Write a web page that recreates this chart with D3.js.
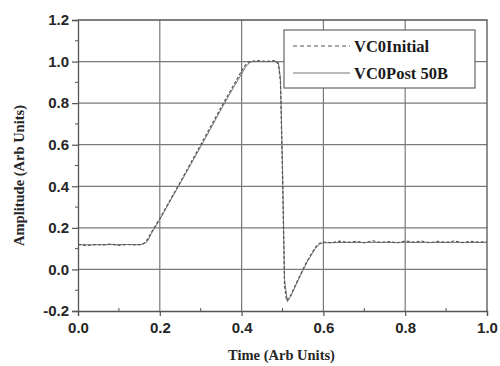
<!DOCTYPE html>
<html>
<head>
<meta charset="utf-8">
<script src="https://cdn.jsdelivr.net/npm/d3@7"></script>
<style>
  body { margin: 0; background: #fff; }
  svg { display: block; }
  .tick-label { font-family: "Liberation Sans", Arial, sans-serif; font-weight: bold; font-size: 15px; fill: #262626; }
  .axis-title { font-family: "Liberation Serif", "Times New Roman", serif; font-weight: bold; font-size: 14.5px; fill: #262626; }
  .legend-text { font-family: "Liberation Serif", "Times New Roman", serif; font-weight: bold; font-size: 16.5px; fill: #1a1a1a; }
</style>
</head>
<body>
<div id="chart"></div>
<script>
// time values and amplitudes
const initialTime = [0, 0.02, 0.04, 0.06, 0.08, 0.10, 0.12, 0.14, 0.155, 0.165, 0.18, 0.20, 0.25, 0.30,
  0.35, 0.38, 0.40, 0.41, 0.42, 0.44, 0.46, 0.48, 0.49, 0.495, 0.50, 0.505, 0.51, 0.52, 0.54, 0.56,
  0.58, 0.59, 0.60, 0.62, 0.64, 0.66, 0.68, 0.70, 0.72, 0.74, 0.76, 0.78, 0.80, 0.82, 0.84, 0.86,
  0.88, 0.90, 0.92, 0.94, 0.96, 0.98, 1.0];
const initialAmp = [0.12, 0.115, 0.12, 0.117, 0.122, 0.116, 0.12, 0.118, 0.12, 0.13, 0.18, 0.245, 0.42, 0.60,
  0.78, 0.885, 0.955, 0.985, 1.0, 1.005, 1.0, 1.005, 0.99, 0.9, 0.45, -0.08, -0.15, -0.125, -0.04, 0.04,
  0.105, 0.125, 0.132, 0.128, 0.136, 0.13, 0.135, 0.128, 0.138, 0.13, 0.134, 0.127, 0.137, 0.131, 0.136, 0.128,
  0.135, 0.13, 0.137, 0.129, 0.135, 0.131, 0.134];

const postTime = [0, 0.03, 0.06, 0.09, 0.12, 0.15, 0.16, 0.17, 0.18, 0.20, 0.25, 0.30, 0.35, 0.38,
  0.40, 0.41, 0.42, 0.425, 0.45, 0.48, 0.49, 0.495, 0.50, 0.505, 0.512, 0.52, 0.54, 0.56, 0.58,
  0.59, 0.60, 0.65, 0.70, 0.75, 0.80, 0.85, 0.90, 0.95, 1.0];
const postAmp = [0.12, 0.118, 0.12, 0.119, 0.12, 0.119, 0.122, 0.135, 0.175, 0.24, 0.415, 0.59, 0.77, 0.875,
  0.94, 0.975, 0.995, 1.0, 1.0, 1.0, 0.995, 0.92, 0.5, -0.05, -0.155, -0.13, -0.045, 0.035, 0.1,
  0.122, 0.128, 0.13, 0.13, 0.13, 0.13, 0.13, 0.13, 0.13, 0.13];

const xTicks = [0, 0.2, 0.4, 0.6, 0.8, 1.0];
const yTicks = [-0.2, 0, 0.2, 0.4, 0.6, 0.8, 1.0, 1.2];
const xMinor = [0.1, 0.3, 0.5, 0.7, 0.9];
const yMinor = [-0.1, 0.1, 0.3, 0.5, 0.7, 0.9, 1.1];
const legendNames = ["VC0Initial", "VC0Post 50B"];

const width = 500, height = 366;
const margin = { top: 20, right: 13, bottom: 55, left: 78 };

const x = d3.scaleLinear().domain([0, 1]).range([margin.left, width - margin.right]);
const y = d3.scaleLinear().domain([-0.2, 1.2]).range([height - margin.bottom, margin.top]);

const svg = d3.select("#chart").append("svg")
  .attr("width", width)
  .attr("height", height);

const gridColor = "#7a7a7a";
const fmt = (d) => d3.format(".1f")(d).replace("\u2212", "-");

// grid
svg.append("g").selectAll("line")
  .data(xTicks.slice(1, -1))
  .join("line")
  .attr("x1", (d) => x(d)).attr("x2", (d) => x(d))
  .attr("y1", y(1.2)).attr("y2", y(-0.2))
  .attr("stroke", gridColor).attr("stroke-width", 1.2);

svg.append("g").selectAll("line")
  .data(yTicks.slice(1, -1))
  .join("line")
  .attr("x1", x(0)).attr("x2", x(1))
  .attr("y1", (d) => y(d)).attr("y2", (d) => y(d))
  .attr("stroke", gridColor).attr("stroke-width", 1.2);

// axes
const xAxis = svg.append("g")
  .attr("transform", `translate(0,${y(-0.2)})`)
  .call(d3.axisBottom(x).tickValues(xTicks).tickSize(5).tickFormat(fmt));
const yAxis = svg.append("g")
  .attr("transform", `translate(${x(0)},0)`)
  .call(d3.axisLeft(y).tickValues(yTicks).tickSize(6).tickFormat(fmt));

[xAxis, yAxis].forEach((g) => {
  g.select(".domain").attr("stroke", "#555").attr("stroke-width", 1.3);
  g.selectAll(".tick line").attr("stroke", "#555").attr("stroke-width", 1.2);
  g.selectAll(".tick text").attr("class", "tick-label").attr("font-size", null).attr("font-family", null).attr("fill", null);
});
xAxis.selectAll(".tick text").attr("dy", "0.9em");
yAxis.selectAll(".tick text").attr("x", -9);

// minor ticks
svg.append("g").selectAll("line")
  .data(xMinor)
  .join("line")
  .attr("x1", (d) => x(d)).attr("x2", (d) => x(d))
  .attr("y1", y(-0.2)).attr("y2", y(-0.2) - 3)
  .attr("stroke", "#555");
svg.append("g").selectAll("line")
  .data(yMinor)
  .join("line")
  .attr("x1", x(0)).attr("x2", x(0) - 3)
  .attr("y1", (d) => y(d)).attr("y2", (d) => y(d))
  .attr("stroke", "#555");

// frame top/right
svg.append("path")
  .attr("d", `M${x(0)},${y(1.2)}H${x(1)}V${y(-0.2)}`)
  .attr("fill", "none").attr("stroke", "#555").attr("stroke-width", 1.3);

// lines
const line = d3.line().x((d) => x(d[0])).y((d) => y(d[1]));
const initialPts = initialTime.map((t, i) => [t, initialAmp[i]]);
const postPts = postTime.map((t, i) => [t, postAmp[i]]);

svg.append("path").datum(postPts)
  .attr("d", line).attr("fill", "none")
  .attr("stroke", "#777").attr("stroke-width", 1);
svg.append("path").datum(initialPts)
  .attr("d", line).attr("fill", "none")
  .attr("stroke", "#555").attr("stroke-width", 1.2).attr("stroke-dasharray", "3,2");

// legend
const lg = svg.append("g");
lg.append("rect")
  .attr("x", 284).attr("y", 30).attr("width", 191).attr("height", 58)
  .attr("fill", "#fff").attr("stroke", "#666").attr("stroke-width", 1.2);
legendNames.forEach((name, i) => {
  const ly = 46 + i * 27;
  lg.append("line")
    .attr("x1", 293).attr("x2", 350).attr("y1", ly).attr("y2", ly)
    .attr("stroke", i === 0 ? "#555" : "#777")
    .attr("stroke-width", i === 0 ? 1.2 : 1)
    .attr("stroke-dasharray", i === 0 ? "4,3" : null);
  lg.append("text")
    .attr("class", "legend-text")
    .attr("x", 354).attr("y", ly + 6)
    .text(name);
});

// axis titles
svg.append("text")
  .attr("class", "axis-title")
  .attr("x", (x(0) + x(1)) / 2 - 1).attr("y", 360)
  .attr("text-anchor", "middle")
  .text("Time (Arb Units)");
svg.append("text")
  .attr("class", "axis-title")
  .attr("text-anchor", "middle")
  .attr("transform", `translate(24,${(y(1.2) + y(-0.2)) / 2 + 10}) rotate(-90)`)
  .text("Amplitude (Arb Units)");
</script>
</body>
</html>
